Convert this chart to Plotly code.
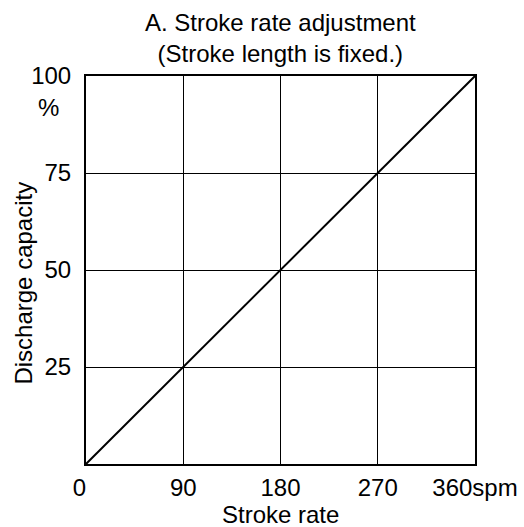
import plotly.graph_objects as go

stroke_rate = [0, 90, 180, 270, 360]
discharge = [0, 25, 50, 75, 100]
x_tick_vals = [0, 90, 180, 270, 360]
x_tick_text = ["0\u00a0\u00a0", "90", "180", "270", "360spm"]
y_tick_vals = [25, 50, 75, 100]
y_tick_text = ["25", "50", "75", "100"]

FONT = "Liberation Sans, Arial, sans-serif"
FS = 24

fig = go.Figure()
fig.add_trace(go.Scatter(x=stroke_rate, y=discharge, mode="lines",
                         line=dict(color="black", width=2), showlegend=False,
                         hoverinfo="skip"))

fig.update_layout(
    width=524, height=527,
    margin=dict(l=86, r=49, t=76, b=63),
    paper_bgcolor="white", plot_bgcolor="white",
    font=dict(family=FONT, size=FS, color="black"),
    title=dict(text="A. Stroke rate adjustment<br>(Stroke length is fixed.)",
               x=0.535, xanchor="center", yref="container", y=1 - 31 / 527,
               yanchor="middle",
               font=dict(family=FONT, size=FS, color="black")),
    xaxis=dict(range=[0, 360], tickvals=x_tick_vals, ticktext=x_tick_text,
               showgrid=True, gridcolor="black", gridwidth=1,
               showline=True, linecolor="black", linewidth=2, mirror=True,
               ticks="outside", ticklen=1, tickcolor="rgba(0,0,0,0)",
               zeroline=False, fixedrange=True, automargin=False),
    yaxis=dict(range=[0, 100], tickvals=y_tick_vals, ticktext=y_tick_text,
               showgrid=True, gridcolor="black", gridwidth=1,
               showline=True, linecolor="black", linewidth=2, mirror=True,
               ticks="outside", ticklen=8, tickcolor="rgba(0,0,0,0)",
               zeroline=False, fixedrange=True, automargin=False),
    annotations=[
        dict(text="%", x=0, xref="paper", xanchor="right", xshift=-25,
             y=100, yref="y", yanchor="middle", yshift=-31,
             showarrow=False, font=dict(family=FONT, size=FS)),
        dict(text="Stroke rate", x=180, xref="x", xanchor="center",
             y=0, yref="paper", yanchor="top", yshift=-35,
             showarrow=False, font=dict(family=FONT, size=FS)),
        dict(text="Discharge capacity", x=0, xref="paper", xanchor="center",
             xshift=-62, y=0.465, yref="paper", yanchor="middle",
             textangle=-90, showarrow=False, font=dict(family=FONT, size=FS)),
    ],
)

fig.write_html("out.html", config={"displayModeBar": False},
               post_script="document.body.style.margin='0';")
